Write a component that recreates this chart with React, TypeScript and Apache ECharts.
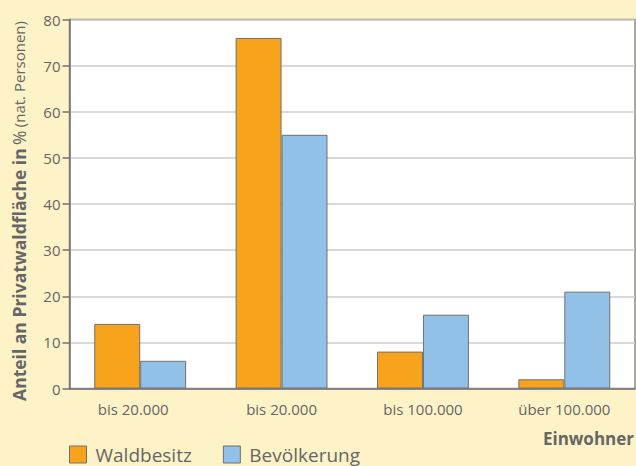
import React, { useEffect, useRef } from "react";
import * as echarts from "echarts";

const categories = ["bis 20.000", "bis 20.000", "bis 100.000", "über 100.000"];
const waldbesitz = [14, 76, 8, 2];
const bevoelkerung = [6, 55, 16, 21];
const seriesNames = ["Waldbesitz", "Bevölkerung"];

const FONT = "'Open Sans', 'Noto Sans', sans-serif";
const TEXT = "#666666";

export default function App() {
  const ref = useRef<HTMLDivElement>(null);
  useEffect(() => {
    const chart = echarts.init(ref.current!, null, { renderer: "svg" });
    chart.setOption({
      animation: false,
      backgroundColor: "#FEF2C7",
      textStyle: { fontFamily: FONT },
      grid: {
        left: 69.5,
        top: 19.5,
        right: 1,
        bottom: 77.5,
        show: true,
        backgroundColor: "#ffffff",
        borderColor: "#8a8a8a",
        borderWidth: 1.5,
      },
      legend: {
        left: 64,
        top: 440,
        itemWidth: 17,
        itemHeight: 17,
        itemGap: 31,
        icon: "rect",
        data: seriesNames,
        itemStyle: { borderColor: "#707070", borderWidth: 1 },
        textStyle: { fontFamily: FONT, fontSize: 19, lineHeight: 17, color: TEXT, padding: [0, 0, 0, 4] },
      },
      xAxis: {
        type: "category",
        data: categories,
        axisLine: { lineStyle: { color: "#707070", width: 1.5 } },
        axisTick: { length: 9, lineStyle: { color: "#707070", width: 1.5 } },
        axisLabel: {
          fontFamily: FONT,
          fontSize: 15,
          color: TEXT,
          margin: 13,
          formatter: (v: string, i: number) => (i === 0 ? `{s|${v}}` : v),
          rich: {
            s: { fontFamily: FONT, fontSize: 15, color: TEXT, padding: [0, 14, 0, 0] },
          },
        },
      },
      yAxis: {
        type: "value",
        min: 0,
        max: 80,
        interval: 10,
        axisLine: { show: true, lineStyle: { color: "#707070", width: 1.5 } },
        axisTick: { show: true, length: 7, lineStyle: { color: "#707070", width: 1.5 } },
        axisLabel: { fontFamily: FONT, fontSize: 15, color: TEXT, margin: 9 },
        splitLine: { lineStyle: { color: "#cccccc", width: 1.5 } },
      },
      graphic: [
        {
          type: "text",
          x: 19,
          y: 211,
          rotation: Math.PI / 2,
          style: {
            text: "{b|Anteil an Privatwaldfläche in} {p|%} {n|(nat. Personen)}",
            align: "center",
            verticalAlign: "middle",
            fill: TEXT,
            rich: {
              b: { fontFamily: FONT, fontSize: 17.5, fontWeight: "bold", fill: TEXT },
              p: { fontFamily: FONT, fontSize: 17.5, fill: TEXT },
              n: { fontFamily: FONT, fontSize: 15, fill: TEXT },
            },
          },
        },
        {
          type: "text",
          right: 2,
          top: 430,
          style: {
            text: "Einwohner",
            fontFamily: FONT,
            fontSize: 17,
            fontWeight: "bold",
            fill: TEXT,
          },
        },
      ],
      series: [
        {
          name: seriesNames[0],
          type: "bar",
          data: waldbesitz,
          barGap: "0%",
          barCategoryGap: "35%",
          itemStyle: { color: "#F7A41C", borderColor: "#707070", borderWidth: 1 },
        },
        {
          name: seriesNames[1],
          type: "bar",
          data: bevoelkerung,
          barGap: "0%",
          barCategoryGap: "35%",
          itemStyle: { color: "#92C1E8", borderColor: "#707070", borderWidth: 1 },
        },
      ],
    });
    return () => chart.dispose();
  }, []);
  return <div ref={ref} style={{ width: 636, height: 466, position: "absolute", left: 0, top: 0 }} />;
}
